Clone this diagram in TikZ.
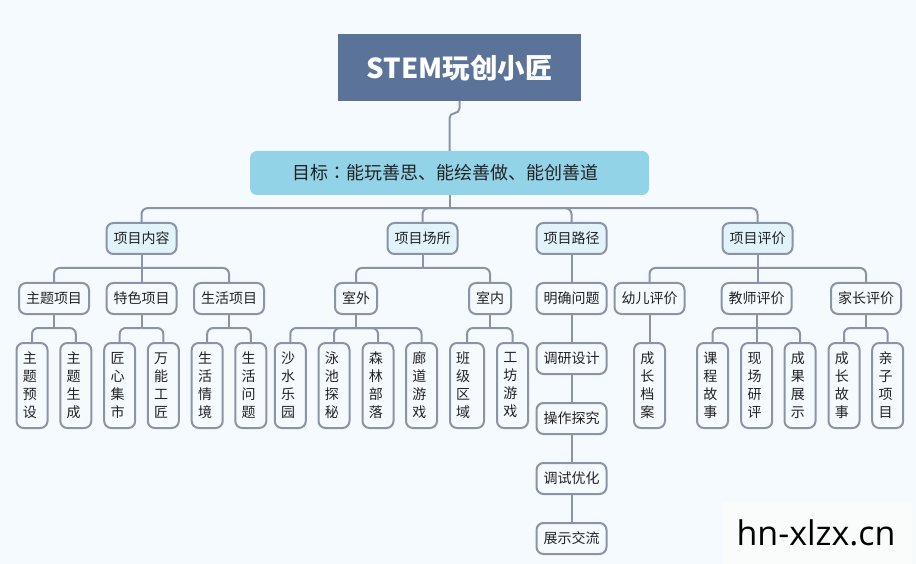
\documentclass[tikz,border=0pt]{standalone}
\usepackage{fontspec}
\setmainfont{Noto Sans CJK SC}
\newfontfamily\wmfont{Open Sans}
\newfontfamily\tcfont{Noto Sans CJK TC}
\definecolor{bgc}{HTML}{F5FAFF}
\definecolor{rootc}{HTML}{5B7299}
\definecolor{goalc}{HTML}{93D3E8}
\definecolor{linec}{HTML}{8A94A6}
\definecolor{lvlc}{HTML}{E3F3FB}
\definecolor{textc}{HTML}{222222}
\definecolor{wmbg}{HTML}{FAFBFB}
\tikzset{
  x=1pt,y=-1pt,
  rootbox/.style={fill=rootc,text=white,minimum width=243pt,minimum height=67pt,inner sep=0pt,font=\fontsize{27.5}{32}\selectfont\bfseries},
  goalbox/.style={fill=goalc,rounded corners=7pt,text=textc,minimum width=399pt,minimum height=44pt,inner sep=0pt,font=\fontsize{18}{22}\selectfont},
  basebox/.style={draw=linec,line width=2pt,rounded corners=7pt,text=textc,inner sep=0pt,font=\fontsize{14}{18}\selectfont},
  catbox/.style={basebox,fill=lvlc,minimum width=70pt,minimum height=31pt},
  subbox/.style={basebox,fill=bgc,minimum width=70pt,minimum height=31pt},
  shortbox/.style={basebox,fill=bgc,minimum width=42pt,minimum height=31pt},
  vbox/.style={basebox,fill=bgc,minimum width=31pt,minimum height=85pt,text width=18.4pt,align=left},
  vwide/.style={vbox,minimum width=34pt,text width=22pt},
  conn/.style={draw=linec,line width=2pt,rounded corners=6pt},
  straight/.style={draw=linec,line width=2pt},
}
\newcommand{\branch}[3]{\path (#1.south) ++(0,#3) coordinate (j);
  \draw[straight] (#1.south) -- (j);
  \draw[conn] (j) -| (#2.north);}
\newcommand{\direct}[2]{\draw[straight] (#1.south) -- (#1.south |- #2.north);}
\begin{document}
\begin{tikzpicture}
\useasboundingbox (0,0) rectangle (916,564);
\fill[bgc] (0,0) rectangle (916,564);

\node[rootbox] (root) at (459.5,67.5) {STEM玩创小匠};
\node[goalbox] (goal) at (449.5,173) {\hspace*{-9pt}目标{\tcfont ：}能玩善思、能绘善做、能创善道};

\node[catbox] (c1) at (141.5,238.5) {项目内容};
\node[catbox] (c2) at (422.5,238.5) {项目场所};
\node[catbox] (c3) at (571.5,238.5) {项目路径};
\node[catbox] (c4) at (757.5,238.5) {项目评价};

\node[subbox] (s1) at (54,298.5) {主题项目};
\node[subbox] (s2) at (141.5,298.5) {特色项目};
\node[subbox] (s3) at (229,298.5) {生活项目};
\node[shortbox] (s4) at (356,298.5) {室外};
\node[shortbox] (s5) at (490,298.5) {室内};
\node[subbox] (s6) at (571.5,298.5) {明确问题};
\node[subbox] (s7) at (649.5,298.5) {幼儿评价};
\node[subbox] (s8) at (756.7,298.5) {教师评价};
\node[subbox] (s9) at (866,298.5) {家长评价};

\node[subbox] (p2) at (571.5,358.5) {调研设计};
\node[subbox] (p3) at (571.5,418.5) {操作探究};
\node[subbox] (p4) at (571.5,478.5) {调试优化};
\node[subbox] (p5) at (571.5,538.5) {展示交流};

\node[vbox] (v1) at (32,385.5) {主\\题\\预\\设};
\node[vbox] (v2) at (75.8,385.5) {主\\题\\生\\成};
\node[vbox] (v3) at (119.7,385.5) {匠\\心\\集\\市};
\node[vbox] (v4) at (163.3,385.5) {万\\能\\工\\匠};
\node[vbox] (v5) at (207.2,385.5) {生\\活\\情\\境};
\node[vbox] (v6) at (250.8,385.5) {生\\活\\问\\题};
\node[vbox] (v7) at (290.3,385.5) {沙\\水\\乐\\园};
\node[vbox] (v8) at (334,385.5) {泳\\池\\探\\秘};
\node[vbox] (v9) at (378,385.5) {森\\林\\部\\落};
\node[vbox] (v10) at (421.5,385.5) {廊\\道\\游\\戏};
\node[vwide] (v11) at (467,385.5) {班\\级\\区\\域};
\node[vbox] (v12) at (512.5,385.5) {工\\坊\\游\\戏};
\node[vbox] (v13) at (649.5,385.5) {成\\长\\档\\案};
\node[vbox] (v14) at (712.5,385.5) {课\\程\\故\\事};
\node[vbox] (v15) at (756.7,385.5) {现\\场\\研\\评};
\node[vbox] (v16) at (800,385.5) {成\\果\\展\\示};
\node[vbox] (v17) at (844,385.5) {成\\长\\故\\事};
\node[vbox] (v18) at (887.7,385.5) {亲\\子\\项\\目};

\draw[conn,rounded corners=5pt] (root.south -| 459.5,0) -- ++(0,12) -| (goal.north -| 449.5,0);

\branch{goal}{c1}{13}
\branch{goal}{c2}{13}
\branch{goal}{c3}{13}
\branch{goal}{c4}{13}

\branch{c1}{s1}{13}
\direct{c1}{s2}
\branch{c1}{s3}{13}
\branch{c2}{s4}{13}
\branch{c2}{s5}{13}
\direct{c3}{s6}
\branch{c4}{s7}{13}
\direct{c4}{s8}
\branch{c4}{s9}{13}

\direct{s6}{p2}
\direct{p2}{p3}
\direct{p3}{p4}
\direct{p4}{p5}

\branch{s1}{v1}{13}
\branch{s1}{v2}{13}
\branch{s2}{v3}{13}
\branch{s2}{v4}{13}
\branch{s3}{v5}{13}
\branch{s3}{v6}{13}
\branch{s4}{v7}{13}
\branch{s4}{v8}{13}
\branch{s4}{v9}{13}
\branch{s4}{v10}{13}
\branch{s5}{v11}{13}
\branch{s5}{v12}{13}
\direct{s7}{v13}
\branch{s8}{v14}{13}
\direct{s8}{v15}
\branch{s8}{v16}{13}
\branch{s9}{v17}{13}
\branch{s9}{v18}{13}

\fill[wmbg] (723,502) rectangle (914,564);
\node[text=black,inner sep=0pt,font=\wmfont\fontsize{34}{38}\selectfont] (wm) at (816,533) {hn-xlzx.cn};
\end{tikzpicture}
\end{document}
